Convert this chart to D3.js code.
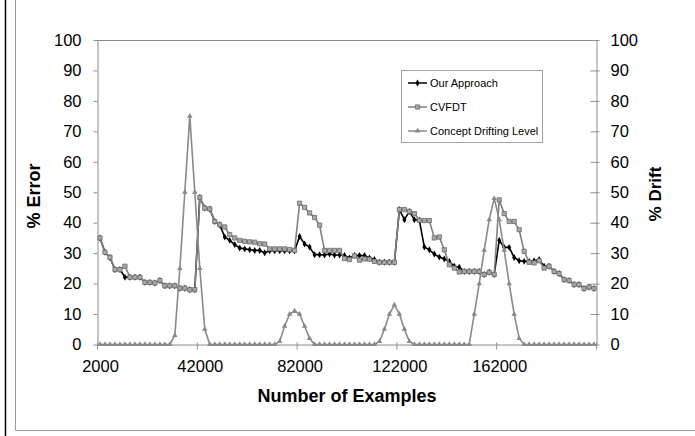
<!DOCTYPE html>
<html>
<head>
<meta charset="utf-8">
<script src="https://cdn.jsdelivr.net/npm/d3@7"></script>
<style>
  body { margin: 0; background: #fff; }
  text { font-family: "Liberation Sans", Arial, sans-serif; }
</style>
</head>
<body>
<svg width="695" height="436"></svg>
<script>
// number of examples, one category every 2000
const examples = d3.range(2000, 200001, 2000);

const ourApproach = [
  35.0, 30.3, 28.6, 24.6, 24.6, 22.1, 22.1, 22.1, 22.1, 20.4,
  20.4, 20.2, 21.0, 19.3, 19.3, 19.3, 18.5, 18.5, 18.0, 18.0,
  48.3, 44.8, 44.5, 40.4, 39.3, 35.3, 34.2, 32.8, 31.7, 31.4,
  31.1, 30.9, 30.9, 30.1, 30.8, 30.8, 30.8, 30.8, 30.8, 30.8,
  35.5, 33.0, 32.0, 29.5, 29.5, 29.4, 29.7, 29.4, 29.4, 29.2,
  28.4, 29.2, 29.2, 29.2, 28.4, 27.9, 27.0, 27.0, 27.0, 27.0,
  44.3, 41.0, 43.7, 41.0, 40.8, 32.0, 31.1, 29.7, 28.7, 28.1,
  27.3, 25.7, 25.4, 24.0, 24.0, 24.0, 24.0, 23.0, 23.7, 23.0,
  34.2, 31.9, 31.9, 28.6, 27.5, 27.3, 27.3, 27.5, 27.9, 25.7,
  25.7, 24.0, 23.3, 21.3, 21.0, 19.7, 19.7, 18.4, 18.9, 18.4
];

const cvfdt = [
  35.0, 30.3, 28.6, 24.6, 24.6, 25.7, 22.1, 22.1, 22.1, 20.4,
  20.4, 20.2, 21.0, 19.3, 19.3, 19.3, 18.5, 18.5, 18.0, 18.0,
  48.3, 44.8, 44.5, 40.4, 39.3, 38.6, 36.1, 35.0, 34.2, 33.9,
  33.7, 33.6, 33.1, 33.0, 31.4, 31.4, 31.4, 31.4, 31.2, 30.9,
  46.4, 45.0, 43.2, 41.7, 39.2, 30.9, 30.9, 30.9, 30.9, 28.2,
  27.9, 29.1, 27.7, 28.1, 28.0, 27.3, 27.0, 27.0, 27.0, 27.0,
  44.3, 44.3, 43.7, 43.0, 40.8, 40.7, 40.7, 35.0, 35.3, 31.1,
  26.2, 25.1, 23.8, 24.0, 24.0, 24.0, 24.0, 23.0, 23.7, 23.0,
  47.5, 43.0, 40.4, 40.4, 37.7, 30.6, 27.0, 26.8, 27.5, 25.1,
  25.7, 24.0, 23.3, 21.3, 21.0, 19.7, 19.7, 18.4, 18.9, 18.4
];

const driftLevel = [
  0, 0, 0, 0, 0, 0, 0, 0, 0, 0,
  0, 0, 0, 0, 0, 3, 25, 50, 75, 50,
  25, 5, 0, 0, 0, 0, 0, 0, 0, 0,
  0, 0, 0, 0, 0, 0, 1, 6, 10, 11,
  10, 6, 2, 0, 0, 0, 0, 0, 0, 0,
  0, 0, 0, 0, 0, 0, 1, 5, 10, 13,
  10, 5, 1, 0, 0, 0, 0, 0, 0, 0,
  0, 0, 0, 0, 0, 10, 20, 31, 41, 48,
  41, 31, 20, 10, 2, 0, 0, 0, 0, 0,
  0, 0, 0, 0, 0, 0, 0, 0, 0, 0
];

const xTickLabels = [2000, 42000, 82000, 122000, 162000];
const xTickMarks = [1000, 41000, 81000, 121000, 161000, 201000];
const yTicks = [0, 10, 20, 30, 40, 50, 60, 70, 80, 90, 100];

const seriesNames = ['Our Approach', 'CVFDT', 'Concept Drifting Level'];

const plotLeft = 97.5, plotRight = 596.5, plotTop = 40, plotBottom = 344.5;
const axisColor = '#8c8c8c';

const svg = d3.select('svg');

// chart area frame
svg.append('line')
    .attr('x1', 5.5).attr('x2', 5.5).attr('y1', 0).attr('y2', 436)
    .attr('stroke', '#000').attr('stroke-width', 1.5);
svg.append('path')
    .attr('d', 'M15.5,0V430.5H695')
    .attr('fill', 'none').attr('stroke', '#9a9a9a');

const x = d3.scaleLinear().domain([1000, 201000]).range([plotLeft, plotRight]);
const y = d3.scaleLinear().domain([0, 100]).range([plotBottom, plotTop]);
const y2 = d3.scaleLinear().domain([0, 100]).range([plotBottom, plotTop]);

// top border of plot area
svg.append('line')
    .attr('x1', plotLeft).attr('x2', plotRight).attr('y1', plotTop + 0.5).attr('y2', plotTop + 0.5)
    .attr('stroke', axisColor);

const yAxis = svg.append('g')
    .attr('transform', `translate(${plotLeft},0)`)
    .call(d3.axisLeft(y).tickValues(yTicks).tickSize(4).tickPadding(12).tickSizeOuter(0));

const y2Axis = svg.append('g')
    .attr('transform', `translate(${plotRight},0)`)
    .call(d3.axisRight(y2).tickValues(yTicks).tickSize(4).tickPadding(10).tickSizeOuter(0));
y2Axis.selectAll('.tick line').attr('x1', -6).attr('x2', 3);

const xAxis = svg.append('g')
    .attr('transform', `translate(0,${plotBottom})`)
    .call(d3.axisBottom(x).tickValues(xTickLabels).tickFormat(d3.format('d'))
      .tickSize(0).tickPadding(15.5).tickSizeOuter(0));

xAxis.selectAll('.xmark')
  .data(xTickMarks)
  .enter()
  .append('line')
    .attr('x1', (d) => x(d)).attr('x2', (d) => x(d))
    .attr('y1', -2).attr('y2', 5)
    .attr('stroke', axisColor);

[yAxis, y2Axis, xAxis].forEach((g) => {
  g.selectAll('.domain').attr('stroke', axisColor);
  g.selectAll('.tick line').attr('stroke', axisColor);
  g.selectAll('.tick text').attr('font-size', 16.5).attr('fill', '#000')
    .attr('font-family', '"Liberation Sans", Arial, sans-serif');
});

// axis titles
svg.append('text')
    .attr('transform', 'translate(40,196) rotate(-90)')
    .attr('text-anchor', 'middle')
    .attr('font-size', 18).attr('font-weight', 'bold')
    .text('% Error');

svg.append('text')
    .attr('transform', 'translate(661,194) rotate(-90)')
    .attr('text-anchor', 'middle')
    .attr('font-size', 17).attr('font-weight', 'bold')
    .text('% Drift');

svg.append('text')
    .attr('x', 347).attr('y', 402)
    .attr('text-anchor', 'middle')
    .attr('font-size', 18).attr('font-weight', 'bold')
    .text('Number of Examples');

// series
const styles = [
  { values: ourApproach, scale: y, stroke: '#000', symbol: d3.symbolDiamond, size: 14, fill: '#000', mstroke: 'none' },
  { values: cvfdt, scale: y, stroke: '#808080', symbol: d3.symbolSquare, size: 18, fill: '#a8a8a8', mstroke: '#6a6a6a' },
  { values: driftLevel, scale: y2, stroke: '#8a8a8a', symbol: d3.symbolTriangle, size: 13, fill: '#8a8a8a', mstroke: 'none' }
];

styles.forEach((s) => {
  const pts = examples.map((e, i) => [x(e), s.scale(s.values[i])]);
  const g = svg.append('g');

  g.append('path')
      .attr('d', d3.line()(pts))
      .attr('fill', 'none')
      .attr('stroke', s.stroke)
      .attr('stroke-width', 1.6);

  g.selectAll('path.mark')
    .data(pts)
    .enter()
    .append('path')
      .classed('mark', true)
      .attr('transform', (d) => `translate(${d[0]},${d[1]})`)
      .attr('d', d3.symbol().type(s.symbol).size(s.size))
      .attr('fill', s.fill)
      .attr('stroke', s.mstroke)
      .attr('stroke-width', 0.8);
});

// legend
const legend = svg.append('g');
legend.append('rect')
    .attr('x', 401.5).attr('y', 70.5)
    .attr('width', 141).attr('height', 72)
    .attr('fill', '#fff').attr('stroke', '#a0a0a0');

const items = legend.selectAll('.item')
  .data(seriesNames)
  .enter()
  .append('g')
    .attr('transform', (d, i) => `translate(0,${83 + i * 24})`);

items.append('line')
    .attr('x1', 408).attr('x2', 427)
    .attr('stroke', (d, i) => styles[i].stroke)
    .attr('stroke-width', 1.5);

items.append('path')
    .attr('transform', 'translate(417.5,0)')
    .attr('d', (d, i) => d3.symbol().type(styles[i].symbol).size(styles[i].size)())
    .attr('fill', (d, i) => styles[i].fill)
    .attr('stroke', (d, i) => styles[i].mstroke)
    .attr('stroke-width', 0.8);

items.append('text')
    .attr('x', 430).attr('y', 4)
    .attr('font-size', 11)
    .text((d) => d);
</script>
</body>
</html>
